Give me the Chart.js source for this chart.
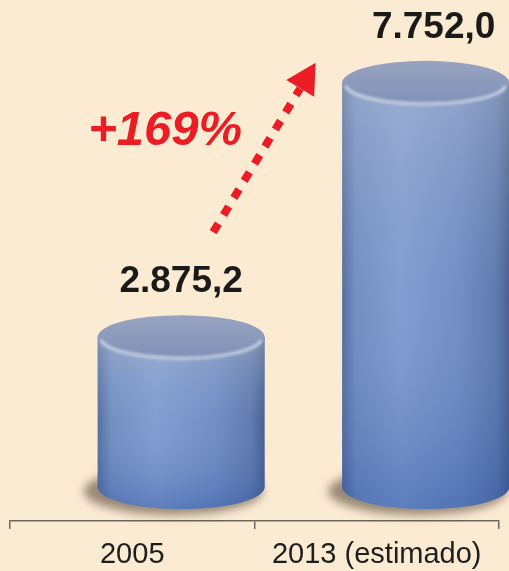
<!DOCTYPE html>
<html>
<head>
<meta charset="utf-8">
<script src="https://cdn.jsdelivr.net/npm/chart.js@4"></script>
<style>
    html, body { margin: 0; padding: 0; background: #FCEBD3; }
    #wrap { width: 509px; height: 571px; position: relative; }
</style>
</head>
<body>
<div id="wrap"><canvas id="chartVentas"></canvas></div>
<script>
// --- Datos ---
const categories = ['2005', '2013 (estimado)'];
const values = [2875.2, 7752.0];
const growthLabel = '+169%';

function formatDecimal(value, digits = 1) {
    return new Intl.NumberFormat('es-AR', { minimumFractionDigits: digits, maximumFractionDigits: digits }).format(value);
}

const fontFamily = '"Liberation Sans", Arial, Helvetica, sans-serif';
const colorRed = '#EC1C24';
const ellipseRy = 22;

// Cylinders, value labels and the growth arrow
const cylinderPlugin = {
    id: 'cylinders',
    afterDatasetsDraw(chart) {
        const ctx = chart.ctx;
        const bars = chart.getDatasetMeta(0).data;

        bars.forEach((bar, i) => {
            const { x, y, base, width } = bar.getProps(['x', 'y', 'base', 'width'], true);
            const rx = width / 2;
            const left = x - rx;
            const right = x + rx;

            // shadow under the cylinder
            ctx.save();
            ctx.filter = 'blur(5px)';
            ctx.fillStyle = 'rgba(70, 55, 40, 0.55)';
            ctx.beginPath();
            ctx.ellipse(x - 8, base + 4, rx + 6, ellipseRy + 2, 0, 0, Math.PI * 2);
            ctx.fill();
            ctx.restore();

            // body
            ctx.save();
            ctx.beginPath();
            ctx.moveTo(left, y);
            ctx.lineTo(left, base);
            ctx.ellipse(x, base, rx, ellipseRy, 0, Math.PI, 0, true);
            ctx.lineTo(right, y);
            ctx.closePath();
            const hGrad = ctx.createLinearGradient(left, 0, right, 0);
            hGrad.addColorStop(0, '#4d679a');
            hGrad.addColorStop(0.08, '#6f8cc0');
            hGrad.addColorStop(0.35, '#809cd0');
            hGrad.addColorStop(0.7, '#6e8bc3');
            hGrad.addColorStop(0.92, '#5875aa');
            hGrad.addColorStop(1, '#3f5888');
            ctx.fillStyle = hGrad;
            ctx.fill();
            const vGrad = ctx.createLinearGradient(0, y, 0, base + ellipseRy);
            vGrad.addColorStop(0, 'rgba(190, 195, 210, 0.45)');
            vGrad.addColorStop(0.5, 'rgba(150, 170, 210, 0.1)');
            vGrad.addColorStop(1, 'rgba(40, 80, 160, 0.4)');
            ctx.fillStyle = vGrad;
            ctx.fill();
            ctx.restore();

            // top
            ctx.save();
            ctx.beginPath();
            ctx.ellipse(x, y, rx, ellipseRy, 0, 0, Math.PI * 2);
            const tGrad = ctx.createLinearGradient(0, y - ellipseRy, 0, y + ellipseRy);
            tGrad.addColorStop(0, '#98a4c0');
            tGrad.addColorStop(1, '#7f90b8');
            ctx.fillStyle = tGrad;
            ctx.fill();
            // front rim highlight
            ctx.filter = 'blur(1.5px)';
            ctx.beginPath();
            ctx.ellipse(x, y + 1, rx - 3, ellipseRy - 2, 0, 0.1, Math.PI - 0.1);
            ctx.strokeStyle = 'rgba(215, 225, 235, 0.85)';
            ctx.lineWidth = 3;
            ctx.stroke();
            ctx.restore();

            // value label
            ctx.save();
            ctx.font = `bold 37px ${fontFamily}`;
            ctx.fillStyle = '#1a1a1a';
            ctx.textAlign = 'center';
            ctx.textBaseline = 'alphabetic';
            ctx.fillText(formatDecimal(values[i]), x + i * 8, y - 45);
            ctx.restore();
        });

        // growth arrow from first bar towards second
        const b0 = bars[0];
        const b1 = bars[1];
        const start = { x: b0.x + 32, y: b0.y - 105 };
        const tip = { x: b1.x - 110, y: b1.y - 20 };
        const ang = Math.atan2(tip.y - start.y, tip.x - start.x);
        const headLen = 34;
        const lineEnd = { x: tip.x - Math.cos(ang) * (headLen - 4), y: tip.y - Math.sin(ang) * (headLen - 4) };

        ctx.save();
        ctx.strokeStyle = colorRed;
        ctx.fillStyle = colorRed;
        ctx.lineWidth = 8;
        ctx.setLineDash([10, 10]);
        ctx.beginPath();
        ctx.moveTo(start.x, start.y);
        ctx.lineTo(lineEnd.x, lineEnd.y);
        ctx.stroke();
        ctx.setLineDash([]);
        ctx.beginPath();
        ctx.moveTo(tip.x, tip.y);
        ctx.lineTo(tip.x - headLen * Math.cos(ang - 0.5), tip.y - headLen * Math.sin(ang - 0.5));
        ctx.lineTo(tip.x - headLen * Math.cos(ang + 0.5), tip.y - headLen * Math.sin(ang + 0.5));
        ctx.closePath();
        ctx.fill();

        ctx.font = `italic bold 49px ${fontFamily}`;
        ctx.textAlign = 'center';
        ctx.textBaseline = 'alphabetic';
        ctx.fillText(growthLabel, b0.x - 16, b0.y - 192);
        ctx.restore();
    }
};

const ctx1 = document.getElementById('chartVentas').getContext('2d');
new Chart(ctx1, {
    type: 'bar',
    data: {
        labels: categories,
        datasets: [{
            data: values.map((v, i) => ({ x: i, y: v })),
            xAxisID: 'xb',
            backgroundColor: 'transparent',
            borderWidth: 0,
            barThickness: 167
        }]
    },
    options: {
        responsive: true,
        maintainAspectRatio: false,
        animation: false,
        layout: { padding: { left: 10, right: 10, top: 0, bottom: -9 } },
        plugins: {
            legend: { display: false },
            tooltip: { enabled: false }
        },
        scales: {
            x: {
                type: 'category',
                position: 'bottom',
                offset: true,
                grid: {
                    display: true,
                    offset: true,
                    drawOnChartArea: false,
                    tickLength: 8,
                    color: '#6b6660',
                    lineWidth: 1.5
                },
                border: { display: true, color: '#6b6660', width: 1.5 },
                ticks: {
                    color: '#1e1e1e',
                    padding: 11,
                    maxRotation: 0,
                    font: { family: fontFamily, size: 29, lineHeight: 1 }
                }
            },
            xb: {
                type: 'linear',
                display: false,
                offset: false,
                grid: { offset: false },
                min: -0.7,
                max: 1.3
            },
            y: {
                display: false,
                min: -650,
                max: 9340
            }
        }
    },
    plugins: [cylinderPlugin]
});
</script>
</body>
</html>
